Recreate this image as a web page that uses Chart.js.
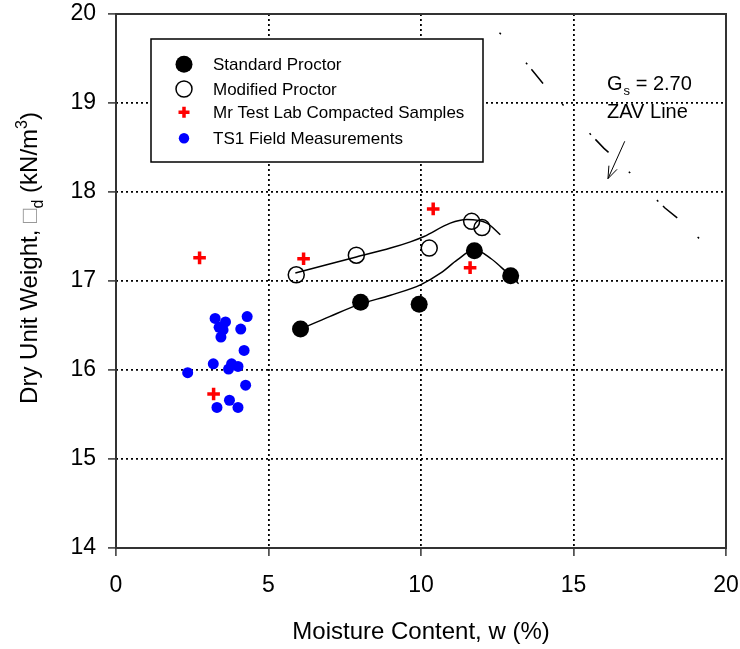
<!DOCTYPE html>
<html>
<head>
<meta charset="utf-8">
<script src="https://cdn.jsdelivr.net/npm/chart.js@4/dist/chart.umd.min.js"></script>
<style>
  html, body { margin: 0; padding: 0; background: #fff; }
</style>
</head>
<body>
<canvas id="proctorChart" width="740" height="649"></canvas>
<script>
// compaction test points (moisture %, dry unit weight kN/m3)
const stdW = [6.05, 8.02, 9.94, 11.75, 12.94];
const stdGd = [16.46, 16.76, 16.74, 17.34, 17.06];
const modW = [5.91, 7.88, 10.27, 11.66, 12.0];
const modGd = [17.07, 17.29, 17.37, 17.67, 17.60];
const labW = [2.74, 3.20, 6.15, 10.40, 11.61];
const labGd = [17.26, 15.73, 17.25, 17.81, 17.15];
const fieldW = [3.25, 3.59, 4.30, 3.38, 3.51, 4.09, 3.44, 4.20, 3.19, 3.79, 3.69, 4.00, 2.35, 4.25, 3.72, 3.31, 4.00];
const fieldGd = [16.58, 16.54, 16.60, 16.48, 16.45, 16.46, 16.37, 16.22, 16.07, 16.07, 16.01, 16.04, 15.97, 15.83, 15.66, 15.58, 15.58];

// fitted compaction curves
const stdFitW = [6.05, 7.0, 8.0, 9.0, 10.0, 10.65, 11.2, 11.75, 12.3, 12.8, 13.2];
const stdFitGd = [16.46, 16.60, 16.74, 16.84, 16.96, 17.09, 17.24, 17.35, 17.25, 17.10, 16.97];
const modFitW = [5.88, 7.0, 7.88, 9.0, 9.65, 10.1, 10.96, 11.5, 12.16, 12.6];
const modFitGd = [17.09, 17.19, 17.27, 17.37, 17.44, 17.50, 17.65, 17.69, 17.65, 17.52];

// zero air voids line, Gs = 2.70
const zavW = [12.0, 12.6, 13.5, 14.0, 14.6, 15.5, 16.0, 16.5, 17.4, 18.0, 18.4, 19.3, 20.0];
const zavGd = [20.0, 19.78, 19.43, 19.22, 19.0, 18.67, 18.49, 18.34, 18.02, 17.82, 17.71, 17.42, 17.2];

const xTicks = [0, 5, 10, 15, 20];
const yTicks = [14, 15, 16, 17, 18, 19, 20];

const FONT = '"Liberation Sans", Arial, sans-serif';

function pts(xs, ys) {
  return xs.map((x, i) => ({ x: x, y: ys[i] }));
}

const legendItems = [
  { label: 'Standard Proctor', kind: 'filled' },
  { label: 'Modified Proctor', kind: 'open' },
  { label: 'Mr Test Lab Compacted Samples', kind: 'cross' },
  { label: 'TS1 Field Measurements', kind: 'dot' }
];

function drawMarker(ctx, kind, x, y, r) {
  ctx.save();
  ctx.beginPath();
  if (kind === 'filled') {
    ctx.arc(x, y, r, 0, Math.PI * 2);
    ctx.fillStyle = '#000';
    ctx.fill();
  } else if (kind === 'open') {
    ctx.arc(x, y, r, 0, Math.PI * 2);
    ctx.lineWidth = 1.5;
    ctx.strokeStyle = '#000';
    ctx.stroke();
  } else if (kind === 'cross') {
    ctx.moveTo(x - r, y); ctx.lineTo(x + r, y);
    ctx.moveTo(x, y - r); ctx.lineTo(x, y + r);
    ctx.lineWidth = 3.5;
    ctx.strokeStyle = '#ff0000';
    ctx.stroke();
  } else {
    ctx.arc(x, y, r, 0, Math.PI * 2);
    ctx.fillStyle = '#0000ff';
    ctx.fill();
  }
  ctx.restore();
}

// frame, axis titles, legend box and ZAV note
const decorations = {
  id: 'decorations',
  afterDatasetsDraw(chart) {
    const ctx = chart.ctx;
    const a = chart.chartArea;
    const xs = chart.scales.x, ys = chart.scales.y;

    ctx.save();
    ctx.strokeStyle = '#333';
    ctx.lineWidth = 2;
    ctx.strokeRect(a.left, a.top, a.right - a.left, a.bottom - a.top);

    // legend
    const bx = a.left + 35, by = a.top + 25, bw = 332, bh = 123;
    ctx.fillStyle = '#fff';
    ctx.fillRect(bx, by, bw, bh);
    ctx.strokeStyle = '#000';
    ctx.lineWidth = 1.5;
    ctx.strokeRect(bx, by, bw, bh);
    const rowY = [25.3, 50, 73.3, 99.3];
    const rad = { filled: 8.5, open: 8, cross: 5.5, dot: 5.2 };
    ctx.font = '17px ' + FONT;
    ctx.textBaseline = 'middle';
    ctx.textAlign = 'left';
    legendItems.forEach((it, i) => {
      drawMarker(ctx, it.kind, bx + 33, by + rowY[i], rad[it.kind]);
      ctx.fillStyle = '#000';
      ctx.fillText(it.label, bx + 62, by + rowY[i] + 1);
    });

    // x title
    ctx.textBaseline = 'alphabetic';
    ctx.textAlign = 'center';
    ctx.font = '24px ' + FONT;
    ctx.fillStyle = '#000';
    ctx.fillText('Moisture Content, w (%)', (a.left + a.right) / 2, a.bottom + 91);

    // y title with subscript and superscript
    const big = '24px ' + FONT, small = '16px ' + FONT;
    const parts = [
      { t: 'Dry Unit Weight, ', f: big, dy: 0, c: '#000' },
      { t: '\u25A1', f: big, dy: 0, c: '#999' },
      { t: 'd', f: small, dy: 6, c: '#000' },
      { t: ' (kN/m', f: big, dy: 0, c: '#000' },
      { t: '3', f: small, dy: -10, c: '#000' },
      { t: ')', f: big, dy: 0, c: '#000' }
    ];
    let total = 0;
    parts.forEach(p => { ctx.font = p.f; p.w = ctx.measureText(p.t).width; total += p.w; });
    ctx.translate(37, 258);
    ctx.rotate(-Math.PI / 2);
    ctx.textAlign = 'left';
    let cx = -total / 2;
    parts.forEach(p => {
      ctx.font = p.f;
      ctx.fillStyle = p.c;
      ctx.fillText(p.t, cx, p.dy);
      cx += p.w;
    });
    ctx.setTransform(1, 0, 0, 1, 0, 0);

    // ZAV annotation
    const tx = xs.getPixelForValue(16.1);
    const ty1 = ys.getPixelForValue(19.15);
    const ty2 = ys.getPixelForValue(18.83);
    ctx.fillStyle = '#000';
    ctx.textAlign = 'left';
    ctx.font = '20px ' + FONT;
    ctx.fillText('G', tx, ty1);
    let gw = ctx.measureText('G').width;
    ctx.font = '13px ' + FONT;
    ctx.fillText('s', tx + gw + 1, ty1 + 5);
    let sw = ctx.measureText('s').width;
    ctx.font = '20px ' + FONT;
    ctx.fillText(' = 2.70', tx + gw + sw + 1, ty1);
    ctx.fillText('ZAV Line', tx, ty2);

    // arrow to the ZAV line
    const x0 = xs.getPixelForValue(16.68), y0 = ys.getPixelForValue(18.57);
    const x1 = xs.getPixelForValue(16.13), y1 = ys.getPixelForValue(18.15);
    const ang = Math.atan2(y1 - y0, x1 - x0);
    ctx.strokeStyle = '#000';
    ctx.lineWidth = 1;
    ctx.beginPath();
    ctx.moveTo(x0, y0); ctx.lineTo(x1, y1);
    [0.35, -0.35].forEach(d => {
      ctx.moveTo(x1, y1);
      ctx.lineTo(x1 - 13 * Math.cos(ang + d), y1 - 13 * Math.sin(ang + d));
    });
    ctx.stroke();
    ctx.restore();
  }
};

const fitLine = {
  showLine: true,
  borderColor: '#000',
  borderWidth: 1.5,
  pointRadius: 0,
  cubicInterpolationMode: 'monotone',
  fill: false
};

new Chart(document.getElementById('proctorChart'), {
  type: 'scatter',
  data: {
    datasets: [
      { label: 'Standard Proctor', data: pts(stdW, stdGd), pointRadius: 8.5, backgroundColor: '#000', borderColor: '#000', borderWidth: 0 },
      { label: 'Modified Proctor', data: pts(modW, modGd), pointRadius: 8, backgroundColor: 'rgba(0,0,0,0)', borderColor: '#000', borderWidth: 1.5 },
      { label: 'Mr Test Lab Compacted Samples', data: pts(labW, labGd), pointStyle: 'cross', pointRadius: 6.3, borderColor: '#ff0000', borderWidth: 3.5 },
      { label: 'TS1 Field Measurements', data: pts(fieldW, fieldGd), pointRadius: 5.5, backgroundColor: '#0000ff', borderColor: '#0000ff', borderWidth: 0 },
      Object.assign({ label: 'std fit', data: pts(stdFitW, stdFitGd) }, fitLine),
      Object.assign({ label: 'mod fit', data: pts(modFitW, modFitGd) }, fitLine),
      { label: 'ZAV', data: pts(zavW, zavGd), showLine: true, borderColor: '#000', borderWidth: 1.5, pointRadius: 0,
        borderDash: [2, 6.5, 18.5, 28, 2, 38], borderDashOffset: 29.4, tension: 0 }
    ]
  },
  options: {
    responsive: false,
    animation: false,
    devicePixelRatio: 1,
    layout: { padding: { top: 14, right: 14, left: 0, bottom: 0 } },
    plugins: { legend: { display: false }, tooltip: { enabled: false } },
    scales: {
      x: {
        type: 'linear', min: 0, max: 20,
        afterBuildTicks: s => { s.ticks = xTicks.map(v => ({ value: v })); },
        afterFit: s => { s.height = 101; s.paddingLeft = 0; s.paddingRight = 0; },
        ticks: { color: '#000', font: { family: FONT, size: 23 }, padding: 16, maxRotation: 0 },
        grid: {
          color: c => (c.tick && (c.tick.value === 0 || c.tick.value === 20)) ? 'rgba(0,0,0,0)' : '#000',
          lineWidth: 1.8, drawTicks: true, tickLength: 8, tickColor: '#333', tickWidth: 1.5
        },
        border: { display: false, dash: [2, 3] }
      },
      y: {
        type: 'linear', min: 14, max: 20,
        afterBuildTicks: s => { s.ticks = yTicks.map(v => ({ value: v })); },
        afterFit: s => { s.width = 116; s.paddingTop = 0; s.paddingBottom = 0; },
        ticks: { color: '#000', font: { family: FONT, size: 23 }, padding: 12 },
        grid: {
          color: c => (c.tick && (c.tick.value === 14 || c.tick.value === 20)) ? 'rgba(0,0,0,0)' : '#000',
          lineWidth: 1.8, drawTicks: true, tickLength: 8, tickColor: '#333', tickWidth: 1.5
        },
        border: { display: false, dash: [2, 3] }
      }
    }
  },
  plugins: [decorations]
});
</script>
</body>
</html>
